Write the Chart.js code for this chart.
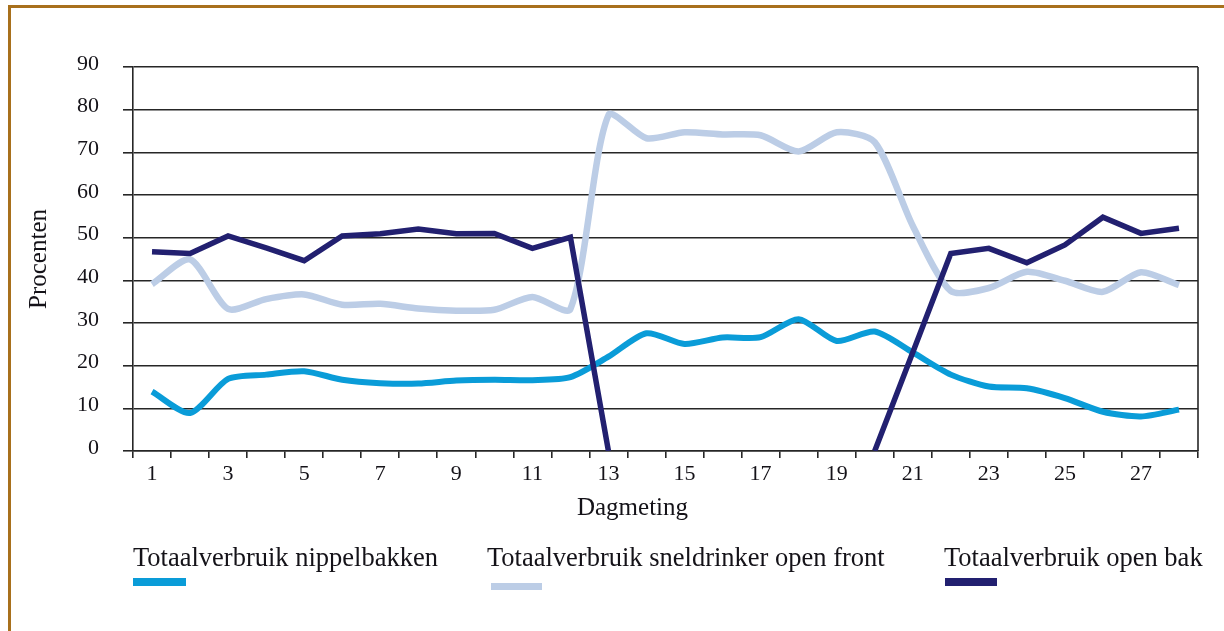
<!DOCTYPE html>
<html>
<head>
<meta charset="utf-8">
<script src="https://cdn.jsdelivr.net/npm/chart.js@4.4.0/dist/chart.umd.min.js"></script>
<style>
html,body{margin:0;padding:0;background:#fff;width:1224px;height:631px;overflow:hidden;font-family:"Liberation Serif",serif;}
#frame{position:absolute;left:8px;top:5px;width:1240px;height:660px;border:3px solid #a8701c;box-sizing:border-box;}
#wrap{position:absolute;left:0;top:0;width:1224px;height:631px;}
.leg{position:absolute;font-size:26.5px;line-height:26px;color:#141218;white-space:nowrap;}
.sw{position:absolute;}
</style>
</head>
<body>
<div id="frame"></div>
<div id="wrap"><canvas id="c" width="1224" height="631"></canvas></div>
<div id="legend"></div>
<script>
const days = ['1','2','3','4','5','6','7','8','9','10','11','12','13','14','15','16','17','18','19','20','21','22','23','24','25','26','27','28'];
const yTicks = [0,10,20,30,40,50,60,70,80,90];
const seriesNames = ['Totaalverbruik nippelbakken','Totaalverbruik sneldrinker open front','Totaalverbruik open bak'];
const nippelbakken = [13.9, 8.9, 16.9, 17.9, 18.7, 16.7, 15.9, 15.8, 16.5, 16.7, 16.6, 17.3, 22.1, 27.6, 25.1, 26.6, 26.7, 30.9, 25.8, 28.0, 23.1, 17.9, 15.1, 14.7, 12.4, 9.2, 8.1, 9.7];
const sneldrinker = [39.1, 44.9, 33.3, 35.6, 36.7, 34.3, 34.5, 33.4, 32.9, 33.1, 36.1, 33.3, 78.7, 73.3, 74.7, 74.2, 74.0, 70.2, 74.7, 72.4, 52.8, 37.5, 38.2, 42.0, 39.9, 37.3, 41.9, 38.9];
const openBak = [46.7, 46.3, 50.4, 47.6, 44.6, 50.4, 50.9, 52.0, 50.9, 51.0, 47.5, 50.1, 0, null, null, null, null, null, null, 0, 23.1, 46.3, 47.5, 44.1, 48.3, 54.8, 51.0, 52.2];
const colors = ['#0a9cd8','#bccde6','#222070'];

const serif = '"Liberation Serif", "Times New Roman", serif';
const lineColor = '#262626';
const textColor = '#141218';

const frameLines = {
  id:'frameLines',
  afterDraw(chart){
    const {ctx, chartArea:a} = chart;
    ctx.save();
    ctx.strokeStyle = lineColor;
    ctx.lineWidth = 1.6;
    ctx.beginPath();
    ctx.moveTo(a.right, a.top);
    ctx.lineTo(a.right, a.bottom);
    ctx.stroke();
    ctx.fillStyle = textColor;
    ctx.font = '25px ' + serif;
    ctx.textAlign = 'center';
    ctx.textBaseline = 'alphabetic';
    ctx.fillText('Dagmeting', (a.left + a.right)/2 - 33, a.bottom + 64);
    ctx.restore();
  }
};

new Chart(document.getElementById('c'), {
  type:'line',
  data:{
    labels: days,
    datasets:[
      {label:seriesNames[0], data:nippelbakken, borderColor:colors[0], backgroundColor:colors[0], borderWidth:6, tension:0.25, pointRadius:0, order:2},
      {label:seriesNames[1], data:sneldrinker, borderColor:colors[1], backgroundColor:colors[1], borderWidth:6.5, tension:0.25, pointRadius:0, order:3},
      {label:seriesNames[2], data:openBak, borderColor:colors[2], backgroundColor:colors[2], borderWidth:5.5, tension:0, pointRadius:0, spanGaps:false, order:1}
    ]
  },
  options:{
    responsive:false,
    animation:false,
    layout:{padding:{left:22, right:26, top:67, bottom:0}},
    plugins:{legend:{display:false}, tooltip:{enabled:false}},
    scales:{
      x:{
        type:'category',
        offset:true,
        grid:{offset:true, drawOnChartArea:false, drawTicks:true, tickLength:7, color:lineColor, lineWidth:1.6},
        border:{display:true, color:lineColor, width:1.6},
        ticks:{autoSkip:false, maxRotation:0, minRotation:0, padding:3, color:textColor,
          font:{family:serif, size:22},
          callback:(v,i)=> i%2===0 ? days[i] : ''},
        afterFit:(s)=>{ s.height = 180; }
      },
      y:{
        min:0, max:90,
        afterBuildTicks:(s)=>{ s.ticks = yTicks.map(v=>({value:v})); },
        grid:{drawTicks:true, tickLength:10, color:lineColor, lineWidth:1.6},
        border:{display:true, color:lineColor, width:1.6},
        ticks:{padding:24, labelOffset:-3, color:textColor, font:{family:serif, size:22}},
        title:{display:true, text:'Procenten', color:textColor, font:{family:serif, size:25}, padding:{top:2,bottom:0}},
        afterFit:(s)=>{ s.width = 133 - 22; }
      }
    }
  },
  plugins:[frameLines]
});

// legend (HTML text under the chart)
const legendPos = [
  {tx:133, ty:544, sx:133, sy:578, sw:53, sh:8},
  {tx:487, ty:544, sx:491, sy:583, sw:51, sh:7},
  {tx:944, ty:544, sx:945, sy:578, sw:52, sh:8}
];
const lg = document.getElementById('legend');
seriesNames.forEach((n,i)=>{
  const p = legendPos[i];
  const t = document.createElement('div');
  t.className='leg'; t.textContent=n; t.style.left=p.tx+'px'; t.style.top=p.ty+'px';
  lg.appendChild(t);
  const s = document.createElement('div');
  s.className='sw'; s.style.left=p.sx+'px'; s.style.top=p.sy+'px'; s.style.width=p.sw+'px'; s.style.height=p.sh+'px'; s.style.background=colors[i];
  lg.appendChild(s);
});
</script>
</body>
</html>
